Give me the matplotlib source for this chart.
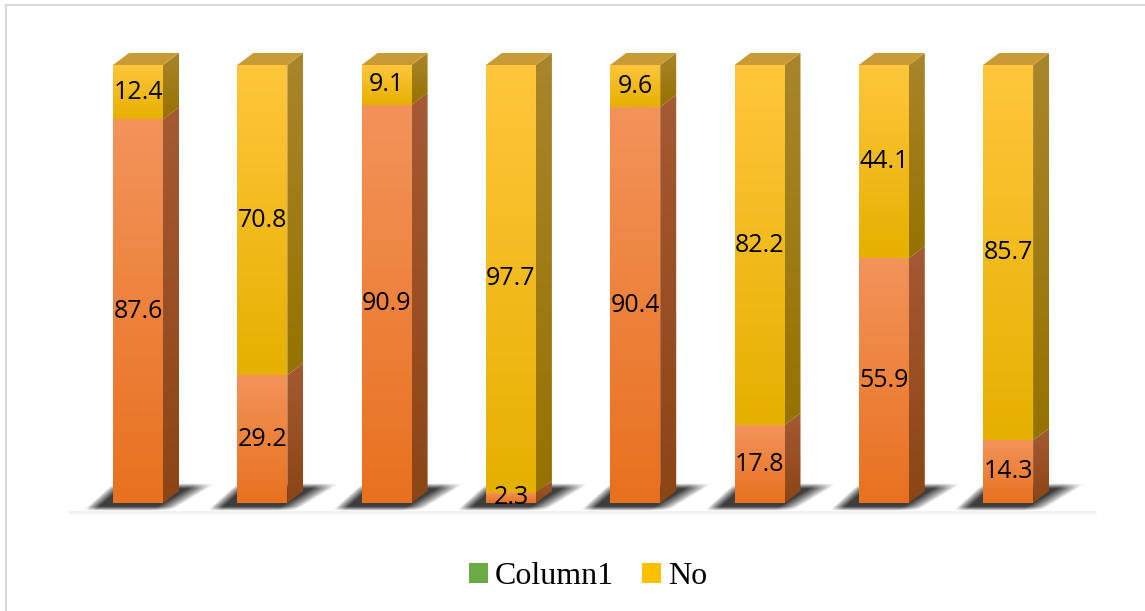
import numpy as np
import matplotlib
matplotlib.use("Agg")
import matplotlib.pyplot as plt
from matplotlib.patches import Polygon, Rectangle, Patch
from matplotlib.colors import to_rgb

# values (percent)
yes_vals = [87.6, 29.2, 90.9, 2.3, 90.4, 17.8, 55.9, 14.3]
no_vals = [12.4, 70.8, 9.1, 97.7, 9.6, 82.2, 44.1, 85.7]
legend_names = ["Column1", "No"]

W, H = 1145, 611
fig = plt.figure(figsize=(W / 100, H / 100), dpi=100)

# full-figure axes, mapped so that bar i sits at pixel x = 138 + 124.3*i
# and value 0 at pixel y = 503, 100 at y = 65
px_x = 124.3
px_y = 4.38
ax = fig.add_axes([0, 0, 1, 1])
ax.set_xlim(-138 / px_x, (W - 138) / px_x)
ax.set_ylim(-(H - 503) / px_y, 503 / px_y)
ax.axis("off")

bw = 50 / px_x       # front face width
dx = 16 / px_x       # depth offset
dy = 12 / px_y


def grad_fill(pts, ctop, cbot, z):
    pts = np.array(pts)
    poly = Polygon(pts, closed=True, fill=False, edgecolor="none", transform=ax.transData)
    ax.add_patch(poly)
    t = np.linspace(0, 1, 128)[:, None, None]
    arr = np.array(to_rgb(ctop))[None, None, :] * (1 - t) + np.array(to_rgb(cbot))[None, None, :] * t
    im = ax.imshow(arr, extent=(pts[:, 0].min(), pts[:, 0].max(), pts[:, 1].min(), pts[:, 1].max()),
                   origin="upper", aspect="auto", interpolation="bilinear", zorder=z)
    im.set_clip_path(poly)


def shadow(xc):
    # soft parallelogram shadow on the floor, built in pixel offsets
    x0, x1 = xc - 65 / px_x, xc + 85 / px_x
    y0, y1 = -12 / px_y, 22 / px_y
    nx, ny = 150, 34
    xs = np.linspace(x0, x1, nx)
    ys = np.linspace(y1, y0, ny)
    X, Y = np.meshgrid((xs - xc) * px_x, -ys * px_y)   # pixel offsets, y down
    v = np.clip((Y + 19) / 27.0, 0, 1)                 # 0 at top edge, 1 at bottom
    left = -25 - 30 * v
    right = 78 - 45 * v
    soft = lambda d, s: np.clip(d / s, 0, 1) ** 0.8
    a = soft(X - left, 12) * soft(right - X, 20) * soft(Y + 19, 5) * soft(8 - Y, 4)
    rgba = np.zeros((ny, nx, 4))
    rgba[..., :3] = 0.2
    rgba[..., 3] = 0.95 * a
    ax.imshow(rgba, extent=(x0, x1, y0, y1), origin="upper", aspect="auto",
              interpolation="bilinear", zorder=1)


# floor line
ax.plot([-0.55, 7.7], [-9 / px_y, -9 / px_y], color="#f0f0f0", lw=2, zorder=0.5)

orange_front = ("#f3935a", "#e8711f")
orange_side = ("#a45a33", "#8c4515")
yellow_front = ("#ffc63c", "#e6b000")
yellow_side = ("#a9852c", "#967200")
top_col = "#c99b35"

for i, (a, b) in enumerate(zip(yes_vals, no_vals)):
    xc = i
    xl, xr = xc - bw / 2, xc + bw / 2
    shadow(xc)
    segs = [(0, a, orange_front, orange_side), (a, a + b, yellow_front, yellow_side)]
    for lo, hi, fc, sc in segs:
        grad_fill([(xl, lo), (xr, lo), (xr, hi), (xl, hi)], fc[0], fc[1], 3)
        grad_fill([(xr, lo), (xr + dx, lo + dy), (xr + dx, hi + dy), (xr, hi)], sc[0], sc[1], 2.5)
        ax.text(xc, (lo + hi) / 2, f"{hi - lo:.1f}", ha="center", va="center",
                fontsize=18, family="Open Sans", color="black", zorder=5)
    top = a + b
    ax.add_patch(Polygon([(xl, top), (xr, top), (xr + dx, top + dy), (xl + dx, top + dy)],
                         closed=True, facecolor=top_col, edgecolor="none", zorder=3))

# legend
handles = [Patch(facecolor="#6aab45", edgecolor="none"), Patch(facecolor="#ffc000", edgecolor="none")]
fig.legend(handles, legend_names, loc="center", bbox_to_anchor=(588 / W, 1 - 577 / H),
           ncol=2, frameon=False, prop={"family": "Liberation Serif", "size": 23},
           handlelength=0.6, handleheight=0.6, handletextpad=0.2, columnspacing=0.9)

# outer border
fig.add_artist(Rectangle((6 / W, -0.01), 1.02, 1 - 5 / H + 0.01, transform=fig.transFigure,
                         fill=False, edgecolor="#d9d9d9", lw=1.5))

fig.savefig("out.png", dpi=100)
